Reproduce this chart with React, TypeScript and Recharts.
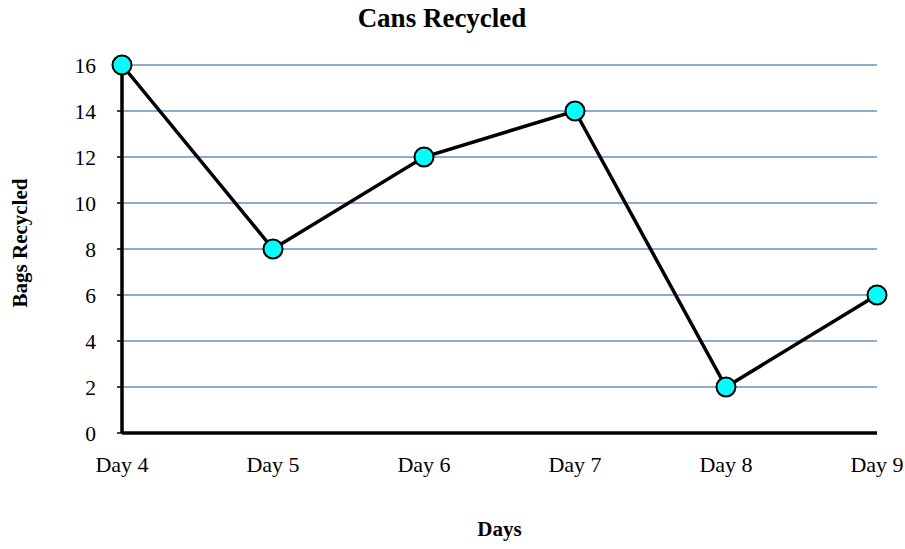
import React from "react";
import { LineChart, Line, XAxis, YAxis, CartesianGrid } from "recharts";

const DAYS = ["Day 4", "Day 5", "Day 6", "Day 7", "Day 8", "Day 9"];
const BAGS = [16, 8, 12, 14, 2, 6];
const Y_TICKS = [0, 2, 4, 6, 8, 10, 12, 14, 16];

const FONT = "'Liberation Serif', 'Times New Roman', serif";

const data = DAYS.map((day, i) => ({ day, bags: BAGS[i] }));

export default function App() {
  return (
    <div style={{ position: "absolute", left: 0, top: 0, width: 905, height: 549, background: "#fff", fontFamily: FONT }}>
      <div
        style={{
          position: "absolute",
          left: 0,
          width: 884,
          top: 3,
          textAlign: "center",
          fontWeight: "bold",
          fontSize: 27,
          lineHeight: "30px",
          color: "#000",
        }}
      >
        Cans Recycled
      </div>
      <LineChart
        width={905}
        height={549}
        data={data}
        margin={{ top: 65, right: 28, left: 0, bottom: 10 }}
        style={{ fontFamily: FONT }}
      >
        <CartesianGrid horizontal vertical={false} stroke="#8fabc6" strokeWidth={1.8} />
        <XAxis
          dataKey="day"
          height={106}
          padding={{ left: 0, right: 0 }}
          axisLine={{ stroke: "#000", strokeWidth: 3.5 }}
          tickLine={false}
          tickSize={8}
          tickMargin={15}
          tick={{ fill: "#000", fontSize: 22, fontFamily: FONT }}
          label={{
            value: "Days",
            position: "insideBottom",
            offset: 3,
            style: { fill: "#000", fontWeight: "bold", fontSize: 21, fontFamily: FONT },
          }}
        />
        <YAxis
          width={122}
          domain={[0, 16]}
          ticks={Y_TICKS}
          interval={0}
          axisLine={{ stroke: "#000", strokeWidth: 3.5 }}
          tickLine={{ stroke: "#000", strokeWidth: 1.5 }}
          tickSize={5}
          tickMargin={21}
          tick={{ fill: "#000", fontSize: 21.5, fontFamily: FONT }}
          label={{
            value: "Bags Recycled",
            angle: -90,
            position: "insideLeft",
            offset: 20,
            dy: -6,
            style: { textAnchor: "middle", fill: "#000", fontWeight: "bold", fontSize: 21, fontFamily: FONT },
          }}
        />
        <Line
          type="linear"
          dataKey="bags"
          stroke="#000"
          strokeWidth={3.5}
          dot={{ r: 9.5, fill: "#00ffff", stroke: "#000", strokeWidth: 2 }}
          activeDot={false}
          isAnimationActive={false}
        />
      </LineChart>
    </div>
  );
}
